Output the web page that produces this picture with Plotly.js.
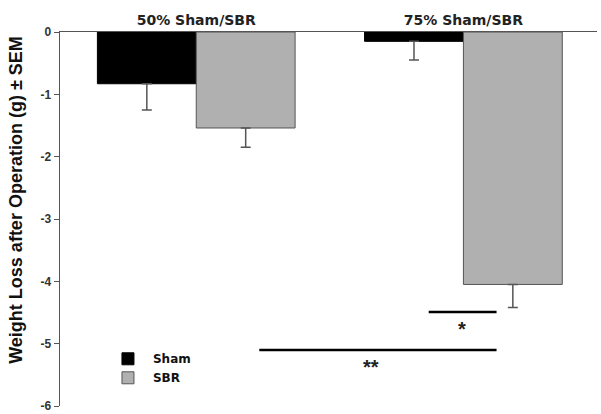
<!DOCTYPE html>
<html>
<head>
<meta charset="utf-8">
<script src="https://cdn.plot.ly/plotly-3.0.1.min.js"></script>
<style>
  body { margin: 0; background: #fff; }
  #myDiv { width: 601px; height: 414px; }
</style>
</head>
<body>
<div id="myDiv"></div>
<script>
// groups along the top axis
var groups = ['50% Sham/SBR', '75% Sham/SBR'];

// mean weight loss (g) and SEM
var shamMean = [-0.83, -0.15];
var shamSem = [0.42, 0.30];
var sbrMean = [-1.54, -4.05];
var sbrSem = [0.31, 0.37];

var yTicks = [0, -1, -2, -3, -4, -5, -6];

var errStyle = {
    type: 'data',
    symmetric: false,
    array: [0, 0],
    color: '#555555',
    thickness: 1.5,
    width: 5
};

var data = [
    {
        type: 'bar', name: 'Sham', x: groups, y: shamMean,
        marker: {color: '#000000', line: {color: '#000000', width: 1}},
        error_y: Object.assign({}, errStyle, {arrayminus: shamSem})
    },
    {
        type: 'bar', name: 'SBR', x: groups, y: sbrMean,
        marker: {color: '#b0b0b0', line: {color: '#555555', width: 1}},
        error_y: Object.assign({}, errStyle, {arrayminus: sbrSem})
    }
];

var layout = {
    width: 601,
    height: 414,
    margin: {l: 60, r: 4, t: 32, b: 8},
    paper_bgcolor: '#ffffff',
    plot_bgcolor: '#ffffff',
    showlegend: true,
    barmode: 'group',
    bargap: 0.26,
    bargroupgap: 0,
    font: {family: 'Arial, Liberation Sans, sans-serif', color: '#111111'},
    xaxis: {
        side: 'top',
        range: [-0.51, 1.5],
        showline: true,
        linecolor: '#555555',
        linewidth: 1.5,
        ticks: '',
        showgrid: false,
        zeroline: false,
        tickfont: {size: 14, color: '#222222', family: 'DejaVu Sans, sans-serif', weight: 'bold'}
    },
    yaxis: {
        range: [-6, 0],
        tickvals: yTicks,
        ticktext: yTicks.map(String),
        showline: true,
        linecolor: '#555555',
        linewidth: 1.5,
        ticks: 'outside',
        ticklen: 5,
        tickcolor: '#555555',
        showgrid: false,
        zeroline: false,
        tickfont: {size: 12, color: '#333333', weight: 'bold'}
    },
    legend: {
        x: 0.08, y: 0.165,
        xanchor: 'left', yanchor: 'top',
        bgcolor: 'rgba(0,0,0,0)',
        tracegroupgap: 0,
        itemwidth: 40,
        font: {size: 12, color: '#111111', family: 'DejaVu Sans, sans-serif', weight: 'bold'}
    },
    shapes: [
        {type: 'line', xref: 'x', yref: 'y', x0: 0.87, x1: 1.124, y0: -4.49, y1: -4.49,
         line: {color: '#000000', width: 2.5}},
        {type: 'line', xref: 'x', yref: 'y', x0: 0.236, x1: 1.124, y0: -5.1, y1: -5.1,
         line: {color: '#000000', width: 2.5}}
    ],
    annotations: [
        {xref: 'paper', yref: 'paper', x: -0.081, y: 0.55, textangle: -90,
         text: 'Weight Loss after Operation (g) ± SEM', showarrow: false,
         xanchor: 'center', yanchor: 'middle',
         font: {size: 18, color: '#111111', weight: 'bold'}},
        {xref: 'x', yref: 'y', x: 0.993, y: -4.76, text: '*', showarrow: false,
         font: {size: 20, color: '#222222', weight: 'bold'}},
        {xref: 'x', yref: 'y', x: 0.655, y: -5.38, text: '**', showarrow: false,
         font: {size: 20, color: '#222222', weight: 'bold'}}
    ]
};

Plotly.newPlot('myDiv', data, layout, {displayModeBar: false, staticPlot: true});
</script>
</body>
</html>
